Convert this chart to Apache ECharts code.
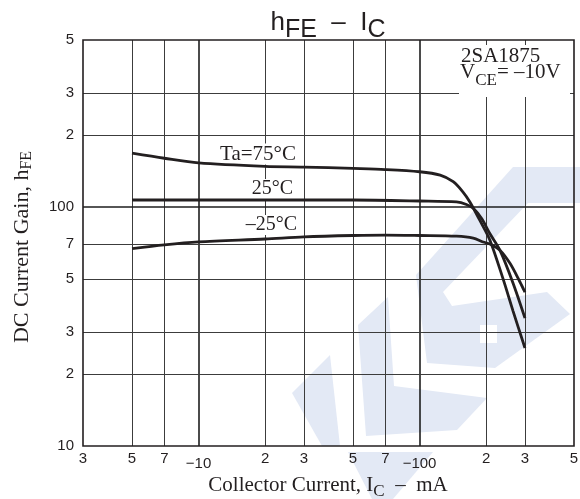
<!DOCTYPE html>
<html>
<head>
<meta charset="utf-8">
<title>hFE - IC</title>
<script src="https://cdn.jsdelivr.net/npm/echarts@6/dist/echarts.min.js"></script>
<style>
    html, body { margin: 0; padding: 0; background: #fff; }
    #main { width: 580px; height: 499px; }
</style>
</head>
<body>
<div id="main"></div>
<script>
// tick positions and texts (collector current in mA, gain hFE)
var xTicks = [3, 5, 7, 10, 20, 30, 50, 70, 100, 200, 300, 500];
var xTickText = ['3', '5', '7', '\u221210', '2', '3', '5', '7', '\u2212100', '2', '3', '5'];
var yTicks = [10, 20, 30, 50, 70, 100, 200, 300, 500];
var yTickText = ['10', '2', '3', '5', '7', '100', '2', '3', '5'];

// Ta = 75 C
var ic75 = [5, 7, 10, 20, 30, 50, 70, 100, 124, 142, 157, 169, 187, 208, 238, 265, 300];
var hfe75 = [168, 160, 153, 148, 147, 145, 143.5, 140.5, 136, 127.6, 115.8, 105, 88.3, 72.8, 50.5, 36.7, 25.7];
// Ta = 25 C
var ic25 = [5, 10, 20, 50, 100, 147, 163, 175, 191, 208, 231, 265, 300];
var hfe25 = [107, 107, 107, 107, 106, 105, 102.5, 98.8, 89.5, 77.5, 66, 48, 34.3];
// Ta = -25 C
var icM25 = [5, 7, 10, 20, 30, 50, 70, 100, 147, 175, 194, 208, 231, 257, 284, 300];
var hfeM25 = [67, 69.5, 71.5, 73.5, 75, 76, 76.3, 76, 75.5, 74.1, 71.4, 70, 66, 58, 48.8, 44];

var ink = '#231f20';
var serif = '"Liberation Serif", "DejaVu Serif", serif';
var sans = '"Liberation Sans", Arial, sans-serif';
var wm = '#e3e9f5';

function pairs(xs, ys) {
    var out = [];
    for (var i = 0; i < xs.length; i++) {
        out.push([xs[i], ys[i]]);
    }
    return out;
}

// grid lines + tick labels as markLines on the log axes
var gridLines = [];
xTicks.forEach(function (v, i) {
    var edge = (v === 3 || v === 500);
    var major = (v === 10 || v === 100);
    gridLines.push({
        xAxis: v,
        lineStyle: {
            color: edge ? 'rgba(0,0,0,0)' : (major ? '#1e1e1e' : '#3c3c3c'),
            width: major ? 1.6 : 1,
            type: 'solid'
        },
        label: {
            show: true,
            position: 'start',
            formatter: xTickText[i],
            distance: major ? 10 : 5,
            color: ink,
            fontFamily: sans,
            fontSize: 15
        }
    });
});
yTicks.forEach(function (v, i) {
    var edge = (v === 10 || v === 500);
    var major = (v === 100);
    gridLines.push({
        yAxis: v,
        lineStyle: {
            color: edge ? 'rgba(0,0,0,0)' : (major ? '#1e1e1e' : '#3c3c3c'),
            width: major ? 1.6 : 1,
            type: 'solid'
        },
        label: {
            show: true,
            position: 'start',
            formatter: yTickText[i],
            distance: 9,
            color: ink,
            fontFamily: sans,
            fontSize: 15
        }
    });
});

function curve(name, xs, ys) {
    return {
        name: name,
        type: 'line',
        data: pairs(xs, ys),
        smooth: 0.3,
        showSymbol: false,
        symbol: 'none',
        z: 5,
        lineStyle: { color: ink, width: 2.8 },
        silent: true
    };
}

var chart = echarts.init(document.getElementById('main'), null, { renderer: 'canvas' });
chart.setOption({
    animation: false,
    backgroundColor: '#fff',
    grid: {
        left: 83, right: 6, top: 40, bottom: 53,
        show: true,
        borderColor: ink,
        borderWidth: 1.6,
        backgroundColor: 'transparent',
        z: 6
    },
    xAxis: {
        type: 'log',
        logBase: 10,
        min: 3,
        max: 500,
        axisLine: { show: false },
        axisTick: { show: false },
        axisLabel: { show: false },
        splitLine: { show: false }
    },
    yAxis: {
        type: 'log',
        logBase: 10,
        min: 10,
        max: 500,
        axisLine: { show: false },
        axisTick: { show: false },
        axisLabel: { show: false },
        splitLine: { show: false }
    },
    series: [
        {
            name: 'grid',
            type: 'line',
            data: [],
            z: 1,
            silent: true,
            markLine: {
                z: 1,
                silent: true,
                symbol: ['none', 'none'],
                animation: false,
                data: gridLines
            }
        },
        curve('Ta=75', ic75, hfe75),
        curve('25', ic25, hfe25),
        curve('-25', icM25, hfeM25)
    ],
    graphic: [
        // watermark logo
        { type: 'polygon', z: 0, silent: true, shape: { points: [[292, 393], [330, 355], [340, 446], [322, 446]] }, style: { fill: wm } },
        { type: 'polygon', z: 0, silent: true, shape: { points: [[348, 452], [433, 452], [393, 499], [372, 499]] }, style: { fill: wm } },
        { type: 'polygon', z: 0, silent: true, shape: { points: [[358, 325], [388, 297], [394, 386], [487, 398], [457, 430], [366, 436]] }, style: { fill: wm } },
        { type: 'polygon', z: 0, silent: true, shape: { points: [[513, 167], [580, 167], [580, 203], [528, 203], [443, 292], [452, 306], [547, 292], [570, 314], [495, 368], [427, 363], [416, 275]] }, style: { fill: wm } },
        { type: 'rect', z: 0, silent: true, shape: { x: 480, y: 325, width: 17, height: 18 }, style: { fill: '#fff' } },

        // title
        {
            type: 'text', z: 10, x: 328, y: 10, silent: true,
            style: {
                text: '{a|h}{s|FE}{a|  \u2013  I}{s|C}',
                align: 'center',
                verticalAlign: 'top',
                fill: ink,
                rich: {
                    a: { fontFamily: sans, fontSize: 26, verticalAlign: 'top', fill: ink },
                    s: { fontFamily: sans, fontSize: 25, verticalAlign: 'top', padding: [8, 0, 0, 0], fill: ink }
                }
            }
        },

        // device / condition box
        { type: 'rect', z: 3, silent: true, shape: { x: 459, y: 45, width: 111, height: 52 }, style: { fill: '#fff' } },
        {
            type: 'text', z: 3, x: 461, y: 46, silent: true,
            style: { text: '2SA1875', fontFamily: serif, fontSize: 21, fill: ink, align: 'left', verticalAlign: 'top' }
        },
        {
            type: 'text', z: 3, x: 460, y: 62, silent: true,
            style: {
                text: '{a|V}{s|CE}{a|= \u201310V}',
                align: 'left',
                verticalAlign: 'top',
                rich: {
                    a: { fontFamily: serif, fontSize: 21, verticalAlign: 'top', fill: ink },
                    s: { fontFamily: serif, fontSize: 17, verticalAlign: 'top', padding: [10, 0, 0, 0], fill: ink }
                }
            }
        },

        // curve labels
        {
            type: 'text', z: 3, x: 297, y: 154, silent: true,
            style: { text: 'Ta=75\u00b0C', fontFamily: serif, fontSize: 21, fill: ink, align: 'right', verticalAlign: 'middle', backgroundColor: '#fff', padding: [0, 1, 0, 2] }
        },
        {
            type: 'text', z: 3, x: 294, y: 189, silent: true,
            style: { text: '25\u00b0C', fontFamily: serif, fontSize: 20, fill: ink, align: 'right', verticalAlign: 'middle', backgroundColor: '#fff', padding: [0, 1, 0, 2] }
        },
        {
            type: 'text', z: 3, x: 298, y: 225, silent: true,
            style: { text: '\u201325\u00b0C', fontFamily: serif, fontSize: 20, fill: ink, align: 'right', verticalAlign: 'middle', backgroundColor: '#fff', padding: [0, 1, 0, 2] }
        },

        // axis names
        {
            type: 'text', z: 10, x: 328, y: 475, silent: true,
            style: {
                text: '{a|Collector Current, I}{s|C}{a|  \u2013  mA}',
                align: 'center',
                verticalAlign: 'top',
                rich: {
                    a: { fontFamily: serif, fontSize: 21, verticalAlign: 'top', fill: ink },
                    s: { fontFamily: serif, fontSize: 17, verticalAlign: 'top', padding: [8, 0, 0, 0], fill: ink }
                }
            }
        },
        {
            type: 'text', z: 10, x: 11, y: 247, rotation: Math.PI / 2, silent: true,
            style: {
                text: '{a|DC Current Gain, h}{s|FE}',
                align: 'center',
                verticalAlign: 'top',
                rich: {
                    a: { fontFamily: serif, fontSize: 22, verticalAlign: 'top', fill: ink },
                    s: { fontFamily: serif, fontSize: 16, verticalAlign: 'top', padding: [8, 0, 0, 0], fill: ink }
                }
            }
        }
    ]
});
</script>
</body>
</html>
